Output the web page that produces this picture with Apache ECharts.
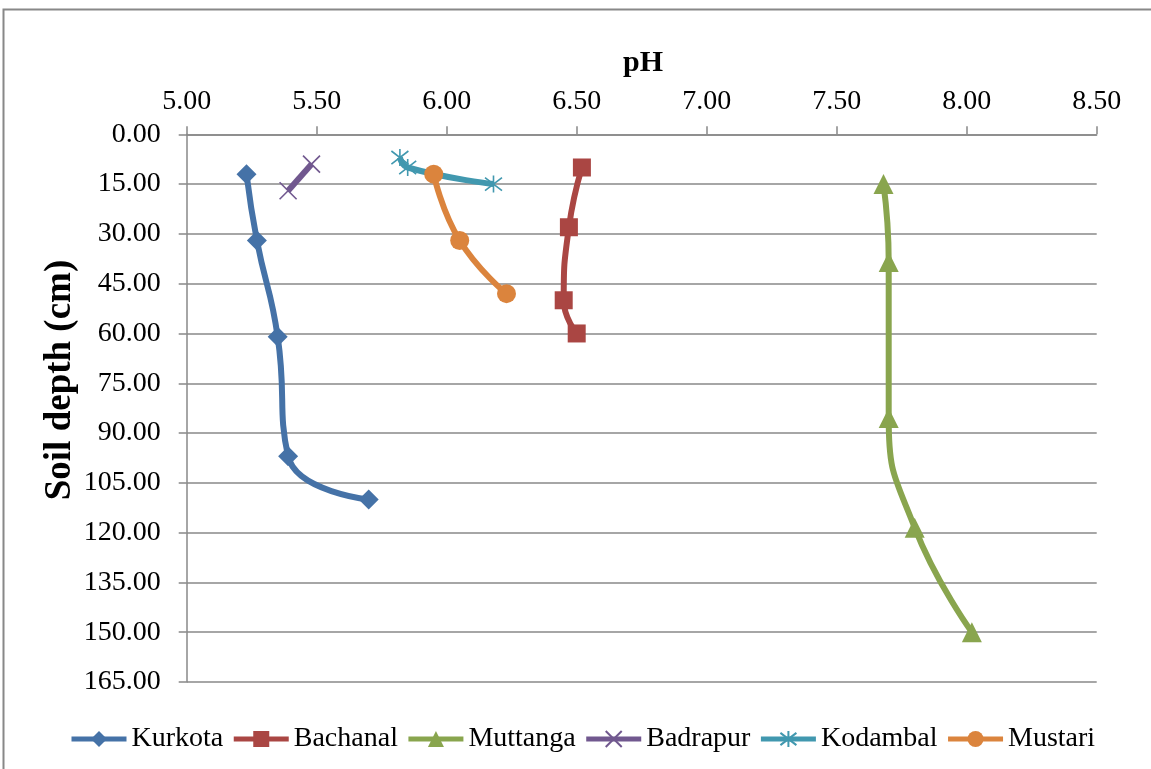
<!DOCTYPE html>
<html>
<head>
<meta charset="utf-8">
<script src="https://cdn.jsdelivr.net/npm/echarts@6/dist/echarts.min.js"></script>
<style>
html,body{margin:0;padding:0;background:#fff;}
#chart{width:1151px;height:769px;}
</style>
</head>
<body>
<div id="chart"></div>
<script>
// ---- data ----
const seriesNames = ['Kurkota', 'Bachanal', 'Muttanga', 'Badrapur', 'Kodambal', 'Mustari'];
const kurkotaPH    = [5.23, 5.27, 5.35, 5.39, 5.70];
const kurkotaDepth = [12, 32, 61, 97, 110];
const bachanalPH    = [6.52, 6.47, 6.45, 6.50];
const bachanalDepth = [10, 28, 50, 60];
const muttangaPH    = [7.68, 7.70, 7.70, 7.80, 8.02];
const muttangaDepth = [15, 38.5, 85.5, 118.5, 150];
const badrapurPH    = [5.48, 5.39];
const badrapurDepth = [9, 17];
const kodambalPH    = [5.82, 5.85, 6.18];
const kodambalDepth = [7, 10, 15];
const mustariPH    = [5.95, 6.05, 6.23];
const mustariDepth = [12, 32, 48];
const phTicks = [5.0, 5.5, 6.0, 6.5, 7.0, 7.5, 8.0, 8.5];
const depthTicks = [0, 15, 30, 45, 60, 75, 90, 105, 120, 135, 150, 165];

const FONT = '"Liberation Serif", "Times New Roman", serif';
const pairs = (xs, ys) => xs.map((x, i) => [x, ys[i]]);

const colors = ['#4572A7', '#AA4643', '#89A54E', '#71588F', '#4198AF', '#DB843D'];
const symbols = [
  'diamond', 'rect', 'triangle',
  'path://M0,0L10,10M10,0L0,10',
  'path://M0,0L10,10M10,0L0,10M5,-1.5L5,11.5',
  'circle'
];
const sizes = [20, 18, 20, 17, 17, 19];
const dataSets = [
  pairs(kurkotaPH, kurkotaDepth),
  pairs(bachanalPH, bachanalDepth),
  pairs(muttangaPH, muttangaDepth),
  pairs(badrapurPH, badrapurDepth),
  pairs(kodambalPH, kodambalDepth),
  pairs(mustariPH, mustariDepth)
];

const series = seriesNames.map((name, i) => {
  const stroked = i === 3 || i === 4;
  return {
    name: name,
    type: 'line',
    data: dataSets[i],
    smooth: 0.5,
    symbol: symbols[i],
    symbolSize: sizes[i],
    showAllSymbol: true,
    clip: false,
    lineStyle: { color: colors[i], width: 6 },
    itemStyle: stroked
      ? { color: colors[i], borderColor: colors[i], borderWidth: 1.6 }
      : { color: colors[i], borderWidth: 0 },
    animation: false
  };
});

const chart = echarts.init(document.getElementById('chart'), null, { renderer: 'canvas' });
chart.setOption({
  backgroundColor: '#ffffff',
  animation: false,
  grid: { left: 186.7, right: 54.3, top: 134.3, height: 547.7, containLabel: false },
  xAxis: {
    type: 'value',
    position: 'top',
    min: phTicks[0],
    max: phTicks[phTicks.length - 1],
    interval: 0.5,
    axisLine: { show: true, lineStyle: { color: '#888888', width: 1.5 } },
    axisTick: { show: true, length: 8, inside: false, lineStyle: { color: '#888888', width: 1.5 } },
    axisLabel: { margin: 19, fontFamily: FONT, fontSize: 28, color: '#000', formatter: v => v.toFixed(2) },
    splitLine: { show: false }
  },
  yAxis: {
    type: 'value',
    inverse: true,
    min: depthTicks[0],
    max: depthTicks[depthTicks.length - 1],
    interval: 15,
    axisLine: { show: true, lineStyle: { color: '#888888', width: 1.5 } },
    axisTick: { show: true, length: 8, lineStyle: { color: '#888888', width: 1.5 } },
    axisLabel: { margin: 26, fontFamily: FONT, fontSize: 28, color: '#000', formatter: v => v.toFixed(2) },
    splitLine: { show: true, lineStyle: { color: '#888888', width: 1.5 } }
  },
  legend: {
    data: seriesNames,
    left: 64,
    top: 720,
    itemWidth: 55,
    itemHeight: 20,
    itemGap: 8,
    lineStyle: { width: 5 },
    textStyle: { fontFamily: FONT, fontSize: 28, color: '#000' }
  },
  graphic: [
    { type: 'rect', silent: true, shape: { x: 3.5, y: 9.5, width: 1300, height: 1000 },
      style: { fill: 'none', stroke: '#888888', lineWidth: 2 } },
    { type: 'text', silent: true, x: 643, y: 63,
      style: { text: 'pH', fontFamily: FONT, fontWeight: 'bold', fontSize: 30, fill: '#000',
               textAlign: 'center', textVerticalAlign: 'middle' } },
    { type: 'text', silent: true, x: 60, y: 380, rotation: Math.PI / 2,
      style: { text: 'Soil depth (cm)', fontFamily: FONT, fontWeight: 'bold', fontSize: 37, fill: '#000',
               textAlign: 'center', textVerticalAlign: 'middle' } }
  ],
  series: series
});
</script>
</body>
</html>
